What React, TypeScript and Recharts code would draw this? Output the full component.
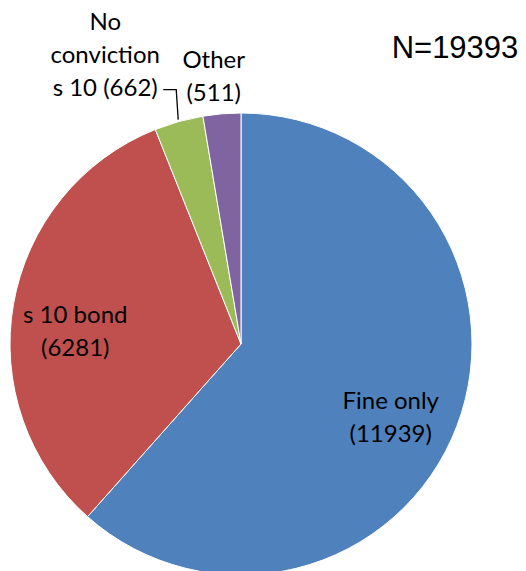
import React from 'react';
import { PieChart, Pie, Cell } from 'recharts';

// Outcome categories and counts
const categories = ['Fine only', 's 10 bond', 'No conviction s 10', 'Other'];
const counts = [11939, 6281, 662, 511];
const colors = ['#4F81BD', '#C0504D', '#9BBB59', '#8064A2'];
// label text lines per slice
const labelLines = [
  ['Fine only', '(11939)'],
  ['s 10 bond', '(6281)'],
  ['No', 'conviction', 's 10 (662)'],
  ['Other', '(511)'],
];
const total = counts.reduce((a, b) => a + b, 0);

const data = categories.map((name, i) => ({ name, value: counts[i] }));

const RAD = Math.PI / 180;
const FONT = 'Lato, "Open Sans", sans-serif';
const FONT_SIZE = 24;
const LINE_H = 33;

const renderLines = (lines: string[], x: number, y: number) => (
  <text x={x} y={y} textAnchor="middle" fontFamily={FONT} fontSize={FONT_SIZE} fill="#000">
    {lines.map((t, k) => (
      <tspan key={k} x={x} y={y + (k - (lines.length - 1) / 2) * LINE_H} dominantBaseline="central">
        {t}
      </tspan>
    ))}
  </text>
);

// inside labels sit a little off the mid angle, toward the horizontal
const insideShift = [-5, 5];

const renderLabel = (props: any) => {
  const { cx, cy, midAngle, outerRadius, index } = props;
  const lines = labelLines[index];

  if (index < 2) {
    const a = (midAngle + insideShift[index]) * RAD;
    const r = outerRadius * 0.72;
    const x = cx + r * Math.cos(a);
    const y = cy - r * Math.sin(a);
    return <g key={`lbl-${index}`}>{renderLines(lines, x, y)}</g>;
  }

  // small slices get labels above the pie
  const a = midAngle * RAD;
  const ex = cx + (outerRadius + 2) * Math.cos(a);
  const ey = cy - (outerRadius + 2) * Math.sin(a);

  if (index === 2) {
    const x = ex - 73;
    const y = ey - 66;
    const lx = x + 58;
    const ly = y + 36;
    return (
      <g key={`lbl-${index}`}>
        <polyline
          points={`${ex},${ey} ${lx + 13},${ly} ${lx},${ly}`}
          fill="none"
          stroke="#000"
          strokeWidth={1.3}
        />
        {renderLines(lines, x, y)}
      </g>
    );
  }

  return <g key={`lbl-${index}`}>{renderLines(lines, ex - 8, ey - 37)}</g>;
};

const App: React.FC = () => {
  return (
    <div style={{ position: 'absolute', left: 0, top: 0, width: 526, height: 571, background: '#fff' }}>
      <PieChart width={526} height={571} margin={{ top: 0, right: 0, bottom: 0, left: 0 }}>
        <Pie
          data={data}
          dataKey="value"
          nameKey="name"
          cx={241}
          cy={344}
          outerRadius={231}
          startAngle={90}
          endAngle={-270}
          stroke="#fff"
          strokeWidth={1}
          label={renderLabel}
          labelLine={false}
          isAnimationActive={false}
        >
          {data.map((d, i) => (
            <Cell key={d.name} fill={colors[i]} />
          ))}
        </Pie>
        <text
          x={455}
          y={47}
          textAnchor="middle"
          dominantBaseline="central"
          fontFamily='"Liberation Sans", Arial, sans-serif'
          fontSize={31}
          fill="#000"
        >
          {`N=${total}`}
        </text>
      </PieChart>
    </div>
  );
};

export default App;
